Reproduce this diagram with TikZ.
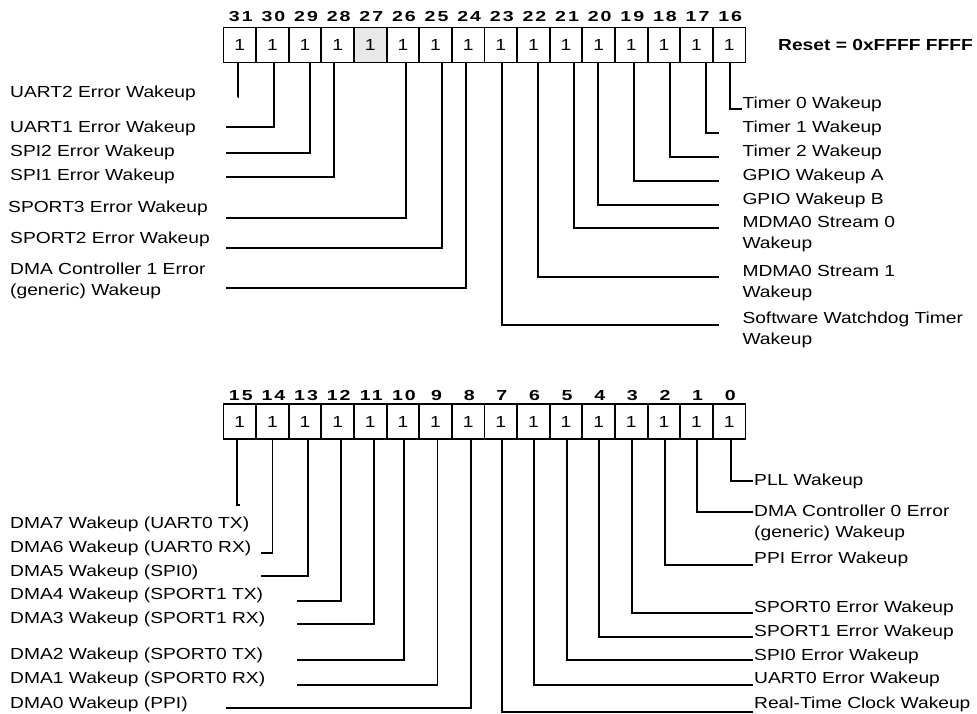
\documentclass[tikz,border=0pt]{standalone}
\usepackage{fontspec}
\setmainfont{Liberation Sans}[FakeStretch=1.2]
\newfontfamily\numfamily{Liberation Sans}[FakeStretch=1.35, LetterSpace=14]
\newcommand\regfs{\fontsize{16}{21}\selectfont}
\newcommand\numfs{\numfamily\bfseries\fontsize{14.5}{17}\selectfont}
\tikzset{
  cell/.style={draw, line width=1.8pt, minimum width=32.625pt, minimum height=35pt,
    inner sep=0pt, outer sep=0pt, font=\regfs},
  bitno/.style={font=\numfs, anchor=base, inner sep=0pt},
  lbl/.style={font=\regfs, anchor=west, inner sep=0pt, align=left},
  wire/.style={line width=1.8pt}
}
\begin{document}
\begin{tikzpicture}[x=1pt, y=-1pt]
\useasboundingbox (0,0) rectangle (977,714);
% ---------- upper register (bits 31..16)
\foreach \i in {0,...,15}{
  \pgfmathtruncatemacro\b{31-\i}
  \ifnum\b=27 \def\cf{gray!18}\else\def\cf{white}\fi
  \node[cell, fill=\cf] (b\b) at ({223.5+32.625*(\i+0.5)},45) {1};
  \node[bitno] (n\b) at ({223.5+32.625*(\i+0.5)+1},22) {\b};
}
% ---------- lower register (bits 15..0)
\foreach \i in {0,...,15}{
  \pgfmathtruncatemacro\b{15-\i}
  \node[cell] (b\b) at ({223.5+32.625*(\i+0.5)},421.5) {1};
  \node[bitno] (n\b) at ({223.5+32.625*(\i+0.5)+1},400) {\b};
}
\node[lbl, font=\regfs\bfseries] (reset) at (778,45) {Reset = 0xFFFF FFFF};

% ---------- labels, upper left
\node[lbl] (l31) at (10,93.2) {UART2 Error Wakeup};
\node[lbl] (l30) at (10,128.8) {UART1 Error Wakeup};
\node[lbl] (l29) at (10,152.5) {SPI2 Error Wakeup};
\node[lbl] (l28) at (10,176.5) {SPI1 Error Wakeup};
\node[lbl] (l26) at (8,208.2) {SPORT3 Error Wakeup};
\node[lbl] (l25) at (10,239.2) {SPORT2 Error Wakeup};
\node[lbl] (l24) at (10,281) {DMA Controller 1 Error\\(generic) Wakeup};
% ---------- labels, upper right
\node[lbl] (l16) at (742.3,104.8) {Timer 0 Wakeup};
\node[lbl] (l17) at (742.3,128.2) {Timer 1 Wakeup};
\node[lbl] (l18) at (742.3,152.5) {Timer 2 Wakeup};
\node[lbl] (l19) at (742.3,176.5) {GPIO Wakeup A};
\node[lbl] (l20) at (742.3,200.5) {GPIO Wakeup B};
\node[lbl] (l21) at (742.3,234.5) {MDMA0 Stream 0\\Wakeup};
\node[lbl] (l22) at (742.3,282.7) {MDMA0 Stream 1\\Wakeup};
\node[lbl] (l23) at (742.3,330.3) {Software Watchdog Timer\\Wakeup};
% ---------- labels, lower left
\node[lbl] (l15) at (10,524.2) {DMA7 Wakeup (UART0 TX)};
\node[lbl] (l14) at (10,548.2) {DMA6 Wakeup (UART0 RX)};
\node[lbl] (l13) at (10,572.2) {DMA5 Wakeup (SPI0)};
\node[lbl] (l12) at (10,595.8) {DMA4 Wakeup (SPORT1 TX)};
\node[lbl] (l11) at (10,619.8) {DMA3 Wakeup (SPORT1 RX)};
\node[lbl] (l10) at (10,655.8) {DMA2 Wakeup (SPORT0 TX)};
\node[lbl] (l9) at (10,679.8) {DMA1 Wakeup (SPORT0 RX)};
\node[lbl] (l8) at (10,704.2) {DMA0 Wakeup (PPI)};
% ---------- labels, lower right
\node[lbl] (l0) at (754,481.5) {PLL Wakeup};
\node[lbl] (l1) at (754,522.7) {DMA Controller 0 Error\\(generic) Wakeup};
\node[lbl] (l2) at (754,559.8) {PPI Error Wakeup};
\node[lbl] (l3) at (754,608.2) {SPORT0 Error Wakeup};
\node[lbl] (l4) at (754,632.2) {SPORT1 Error Wakeup};
\node[lbl] (l5) at (754,656.5) {SPI0 Error Wakeup};
\node[lbl] (l6) at (754,679.8) {UART0 Error Wakeup};
\node[lbl] (l7) at (754,704.2) {Real-Time Clock Wakeup};

% ---------- connectors
\foreach \b/\dx/\ex/\ey in {
  31/-2/237.8/97, 30/1.6/225.7/127, 29/5/225.7/153.3, 28/-3.7/225.7/176.7,
  26/2.8/225.7/218.3, 25/6.4/225.7/248.3, 24/-2.2/225.7/287.7,
  23/0.9/718.7/325, 22/4.6/718.7/276.7, 21/7.9/718.7/228.3, 20/-0.4/718.7/205,
  19/2.7/718.7/180.7, 18/6.1/718.7/156.7, 17/9.4/718.7/132.7, 16/0.8/742/109,
  15/-3/240/505, 14/0/261/552.7, 13/2.6/261/576, 12/3/297/600.7,
  11/3.7/297/624.3, 10/1/297/660, 9/2/297/685, 8/2.8/225.7/708.3,
  7/0.9/752.7/711.7, 6/0.6/752.7/685, 5/1.2/752.7/660, 4/0/752.7/636.7,
  3/1/752.7/612.7, 2/1/752.7/565, 1/0.7/752.7/511.7, 0/1.5/752.7/480.7}{
  \coordinate (e\b) at (\ex,\ey);
  \draw[wire] ([xshift=\dx pt]b\b.south) |- (e\b);
}
\end{tikzpicture}
\end{document}
